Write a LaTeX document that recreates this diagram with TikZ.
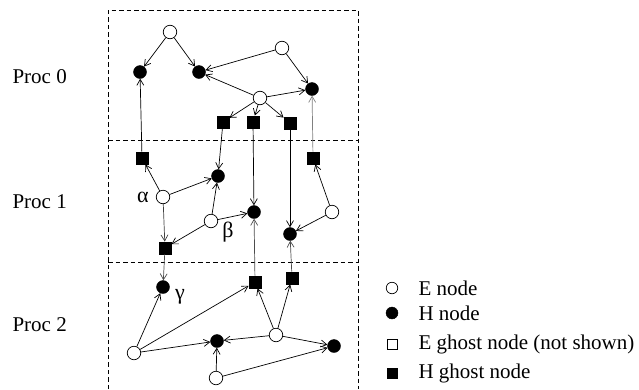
\documentclass[tikz,border=0pt]{standalone}
\usepackage{fontspec}
\setmainfont{Liberation Serif}
\usetikzlibrary{arrows.meta}
\begin{document}
\begin{tikzpicture}[x=1pt,y=-1pt,
  enode/.style={circle,draw,fill=white,line width=0.7pt,inner sep=0pt,minimum size=13.5pt},
  hnode/.style={circle,draw,fill=black,inner sep=0pt,minimum size=13pt},
  hghost/.style={rectangle,draw,fill=black,inner sep=0pt,minimum size=12.5pt},
  eghost/.style={rectangle,draw,fill=white,line width=0.7pt,inner sep=0pt,minimum size=10pt},
  edge/.style={-{Straight Barb[length=6pt,width=7pt]},line width=0.7pt},
  part/.style={dash pattern=on 4.5pt off 3pt,line width=0.7pt},
  proc/.style={font=\fontsize{21}{25}\selectfont,anchor=west},
  greek/.style={font=\fontsize{22}{26}\selectfont},
  legtext/.style={font=\fontsize{21}{25}\selectfont,anchor=west}]
\useasboundingbox (0,0) rectangle (639,389);

% processor partitions
\draw[part] (108,389) -- (108,10) -- (358,10) -- (358,389);
\draw[part] (108,140) -- (358,140);
\draw[part] (108,262) -- (358,262);

\node[proc] (p0) at (9,77) {Proc 0};
\node[proc] (p1) at (9,202) {Proc 1};
\node[proc] (p2) at (9,325) {Proc 2};

% Proc 0
\node[enode] (e0a) at (170,32) {};
\node[hnode] (h0a) at (140,72) {};
\node[hnode] (h0b) at (199,72) {};
\node[enode] (e0b) at (282,48) {};
\node[hnode] (h0c) at (312,89) {};
\node[enode] (e0c) at (260,98) {};
\node[hghost] (g0a) at (223,122) {};
\node[hghost] (g0b) at (253,122) {};
\node[hghost] (g0c) at (290,123) {};

% Proc 1
\node[hghost] (g1a) at (142,158) {};
\node[hnode] (h1a) at (218,176) {};
\node[hnode] (h1b) at (254,212) {};
\node[hnode] (h1c) at (290,234) {};
\node[hghost] (g1b) at (313,158) {};
\node[enode] (e1a) at (163,197) {};
\node[enode] (e1b) at (211,221) {};
\node[enode] (e1c) at (332,212) {};
\node[hghost] (g1c) at (165,248) {};
\node[greek] (lalpha) at (143,197) {α};
\node[greek] (lbeta) at (228,232) {β};

% Proc 2
\node[hnode] (h2a) at (163,287) {};
\node[hghost] (g2a) at (255,282) {};
\node[hghost] (g2b) at (292,278) {};
\node[enode] (e2a) at (134,353) {};
\node[hnode] (h2b) at (217,341) {};
\node[enode] (e2b) at (276,335) {};
\node[hnode] (h2c) at (334,346) {};
\node[enode] (e2c) at (216,378) {};
\node[greek] (lgamma) at (180,297) {γ};

% edges within Proc 0
\draw[edge] (e0a) -- (h0a);
\draw[edge] (e0a) -- (h0b);
\draw[edge] (e0b) -- (h0b);
\draw[edge] (e0b) -- (h0c);
\draw[edge] (e0c) -- (h0b);
\draw[edge] (e0c) -- (h0c);
\draw[edge] (e0c) -- (g0a);
\draw[edge] (e0c) -- (g0b);
\draw[edge] (e0c) -- (g0c);

% edges within Proc 1
\draw[edge] (e1a) -- (g1a);
\draw[edge] (e1a) -- (h1a);
\draw[edge,black!75] (e1a) -- (g1c);
\draw[edge] (e1b) -- (h1a);
\draw[edge] (e1b) -- (h1b);
\draw[edge] (e1b) -- (g1c);
\draw[edge] (e1c) -- (g1b);
\draw[edge] (e1c) -- (h1c);

% edges within Proc 2
\draw[edge] (e2a) -- (h2a);
\draw[edge] (e2a) -- (g2a);
\draw[edge] (e2a) -- (h2b);
\draw[edge] (e2b) -- (g2a);
\draw[edge] (e2b) -- (g2b);
\draw[edge] (e2b) -- (h2b);
\draw[edge] (e2b) -- (h2c);
\draw[edge] (e2c) -- (h2b);
\draw[edge] (e2c) -- (h2c);

% ghost nodes to their owners
\draw[edge] (g1a) -- (h0a);
\draw[edge,black!50] (g1b) -- (h0c);
\draw[edge] (g0a) -- (h1a);
\draw[edge] (g0b) -- (h1b);
\draw[edge] (g0c) -- (h1c);
\draw[edge,black!70] (g1c) -- (h2a);
\draw[edge,black!70] (g2a) -- (h1b);
\draw[edge,black!70] (g2b) -- (h1c);

% legend
\node[enode,minimum size=11.5pt] (le) at (392,288) {};
\node[hnode,minimum size=12pt] (lh) at (392,313) {};
\node[eghost] (lg) at (392,344) {};
\node[hghost,minimum size=10pt] (lhg) at (392,373) {};
\node[legtext] (tle) at (415,288) {E node};
\node[legtext] (tlh) at (415,313) {H node};
\node[legtext] (tlg) at (415,344) {E ghost node (not shown)};
\node[legtext] (tlhg) at (415,373) {H ghost node};
\end{tikzpicture}
\end{document}
